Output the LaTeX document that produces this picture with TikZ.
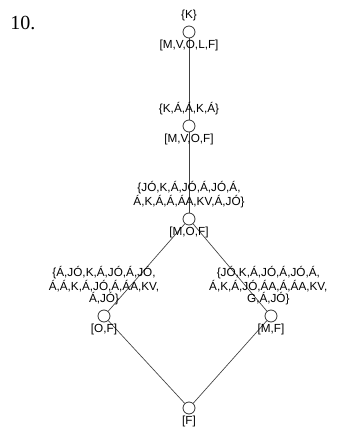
\documentclass[tikz,border=0pt]{standalone}
\usepackage{fontspec}
\setmainfont{Liberation Serif}
\setsansfont{Liberation Sans}
\usetikzlibrary{positioning}

\begin{document}
\begin{tikzpicture}[x=0.75pt, y=-0.75pt,
    concept/.style={draw=black!80, circle, minimum size=9pt, inner sep=0pt, line width=0.6pt},
    objs/.style={align=center, inner sep=0pt, font=\sffamily\fontsize{8.8}{9}\selectfont},
    attrs/.style={inner sep=0pt, font=\sffamily\fontsize{8.8}{9}\selectfont},
    edge/.style={draw=black!75, line width=0.5pt}
  ]
  \useasboundingbox (0,0) rectangle (338,437);
  \node[anchor=base west, inner sep=0pt, font=\fontsize{15}{18}\selectfont] (num) at (10,29) {10.};

  % concepts, top to bottom
  \node[concept] (mvolf) at (189,32)  {};
  \node[concept] (mvof)  at (189,126) {};
  \node[concept] (mof)   at (189,219) {};
  \node[concept] (of)    at (104,316) {};
  \node[concept] (mf)    at (271,316) {};
  \node[concept] (f)     at (189,408) {};

  \draw[edge] (mvolf) -- (mvof);
  \draw[edge] (mvof)  -- (mof);
  \draw[edge] (mof)   -- (of);
  \draw[edge] (mof)   -- (mf);
  \draw[edge] (of)    -- (f);
  \draw[edge] (mf)    -- (f);

  % objects above, attributes below
  \node[objs, above=3pt of mvolf] (ext-mvolf) {\{K\}};
  \node[attrs, below=1pt of mvolf] (int-mvolf) {[M,V,O,L,F]};

  \node[objs, above=3pt of mvof] (ext-mvof) {\{K,Á,Á,K,Á\}};
  \node[attrs, below=1pt of mvof] (int-mvof) {[M,V,O,F]};

  \node[objs, above=3pt of mof] (ext-mof) {\{JÓ,K,Á,JÓ,Á,JÓ,Á,\\Á,K,Á,Á,ÁA,KV,Á,JÓ\}};
  \node[attrs, below=1pt of mof] (int-mof) {[M,O,F]};

  \node[objs, above=3pt of of] (ext-of) {\{Á,JÓ,K,Á,JÓ,Á,JÓ,\\Á,Á,K,Á,JÓ,Á,ÁA,KV,\\Á,JÓ\}};
  \node[attrs, below=1pt of of] (int-of) {[O,F]};

  \node[objs, above=3pt of mf, xshift=-2pt] (ext-mf) {\{JÓ,K,Á,JÓ,Á,JÓ,Á,\\Á,K,Á,JÓ,ÁA,Á,ÁA,KV,\\G,Á,JÓ\}};
  \node[attrs, below=1pt of mf] (int-mf) {[M,F]};

  \node[attrs, below=1pt of f] (int-f) {[F]};
\end{tikzpicture}
\end{document}
